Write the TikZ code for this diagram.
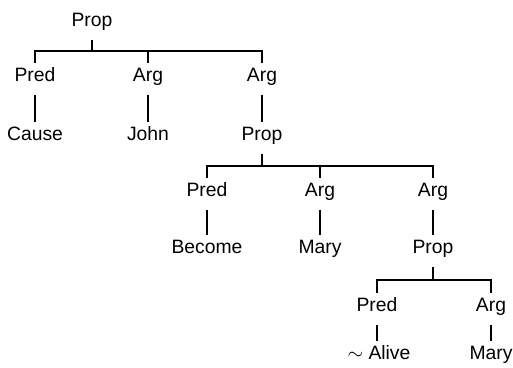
\documentclass[tikz,border=0pt]{standalone}
\usepackage{fontspec}
\setmainfont{Liberation Sans}
\usetikzlibrary{positioning}
\tikzset {
  cat/.style = {font=\fontsize{11.6}{14}\selectfont, inner xsep=1pt, inner ysep=3pt, text height=8.3pt, text depth=4.5pt},
  line/.style = {line width=1pt, color=black},
}

\begin{document}
\begin{tikzpicture}[on grid]
  \useasboundingbox (0,0) rectangle (307.8pt,-220.2pt);

    \node[cat] (prop1) at (55.2pt,-14.2pt) {Prop};
    \node[cat, below left=33pt and 34.2pt of prop1] (pred1) {Pred};
    \node[cat, below right=33pt and 33.6pt of prop1] (arg1) {Arg};
    \node[cat, below right=33pt and 102pt of prop1] (arg2) {Arg};
    \node[cat, below=35.4pt of pred1] (cause) {Cause};
    \node[cat, below=35.4pt of arg1] (john) {John};
    \node[cat, below=35.4pt of arg2] (prop2) {Prop};

    \node[cat, below left=33.6pt and 33pt of prop2] (pred2) {Pred};
    \node[cat, below right=33.6pt and 34.8pt of prop2] (arg3) {Arg};
    \node[cat, below right=33.6pt and 102.6pt of prop2] (arg4) {Arg};
    \node[cat, below=34.2pt of pred2] (become) {Become};
    \node[cat, below=34.2pt of arg3] (mary1) {Mary};
    \node[cat, below=34.2pt of arg4] (prop3) {Prop};

    \node[cat, below left=34.8pt and 33.6pt of prop3] (pred3) {Pred};
    \node[cat, below right=34.8pt and 34.8pt of prop3] (arg5) {Arg};
    \node[cat, below right=28.8pt and 1.2pt of pred3] (alive) {$\sim$ Alive};
    \node[cat, below=28.8pt of arg5] (mary2) {Mary};

    % branching bars
    \path (prop1.south) -- (prop1.south |- pred1.north) coordinate[midway] (bar1);
    \path (prop2.south) -- (prop2.south |- pred2.north) coordinate[midway] (bar2);
    \path (prop3.south) -- (prop3.south |- pred3.north) coordinate[midway] (bar3);

    \draw[line] (prop1) -- (bar1);
    \draw[line] (pred1) |- (bar1) -| (arg2);
    \draw[line] (arg1) -- (arg1 |- bar1);
    \draw[line] (pred1) -- (cause);
    \draw[line] (arg1) -- (john);
    \draw[line] (arg2) -- (prop2);

    \draw[line] (prop2) -- (bar2);
    \draw[line] (pred2) |- (bar2) -| (arg4);
    \draw[line] (arg3) -- (arg3 |- bar2);
    \draw[line] (pred2) -- (become);
    \draw[line] (arg3) -- (mary1);
    \draw[line] (arg4) -- (prop3);

    \draw[line] (prop3) -- (bar3);
    \draw[line] (pred3) |- (bar3) -| (arg5);
    \draw[line] (pred3) -- (pred3 |- alive.north);
    \draw[line] (arg5) -- (mary2);

\end{tikzpicture}
\end{document}
